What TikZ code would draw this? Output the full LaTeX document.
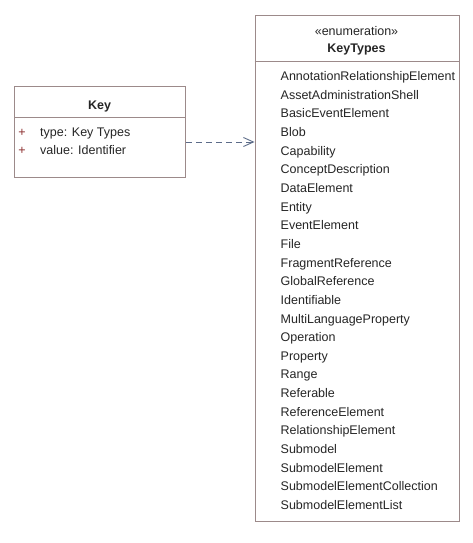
\documentclass[tikz,border=0pt]{standalone}
\usepackage{fontspec}
\setmainfont{Liberation Sans}
\usetikzlibrary{arrows.meta}
\definecolor{bordercol}{HTML}{9C8A8A}
\definecolor{txtcol}{HTML}{262626}
\definecolor{pluscol}{HTML}{8C2E2E}
\definecolor{arrowcol}{HTML}{5C6B88}
\begin{document}
\begin{tikzpicture}[x=1pt,y=-1pt,
  box/.style={draw=bordercol, line width=1pt, fill=white, inner sep=0pt, anchor=north west},
  sep/.style={draw=bordercol, line width=1pt},
  txt/.style={inner sep=0pt, anchor=base west, text=txtcol, font=\fontsize{12.5}{15}\selectfont},
  ctxt/.style={inner sep=0pt, anchor=base, text=txtcol, font=\fontsize{12.5}{15}\selectfont},
  btxt/.style={inner sep=0pt, anchor=base, text=txtcol, font=\fontsize{12.5}{15}\selectfont\bfseries},
  plus/.style={inner sep=0pt, anchor=base, text=pluscol, font=\fontsize{12.5}{15}\selectfont},
  dep/.style={draw=arrowcol, line width=0.9pt, dash pattern=on 6pt off 4pt, -{Straight Barb[length=10pt, width=9pt, line width=0.9pt]}}
]
\useasboundingbox (0,0) rectangle (473,543);
% Key class
\node[box, minimum width=171pt, minimum height=91pt] (key) at (14,86) {};
\coordinate (keysepL) at (14,117);
\coordinate (keysepR) at (185,117);
\draw[sep] (keysepL) -- (keysepR);
\node[btxt] (keytitle) at (99.5,109) {Key};
\node[plus] (p1) at (22,136) {+};
\node[plus] (p2) at (22,154.5) {+};
\node[txt] (a1) at (40,136) {type: Key Types};
\node[txt] (a2) at (40,154.5) {value: Identifier};
% KeyTypes enumeration
\node[box, minimum width=204pt, minimum height=505pt] (kt) at (254.5,15.5) {};
\coordinate (ktsepL) at (254.5,61.5);
\coordinate (ktsepR) at (458.5,61.5);
\draw[sep] (ktsepL) -- (ktsepR);
\node[ctxt] (stereo) at (356.5,36) {«enumeration»};
\node[btxt] (kttitle) at (356.5,52.5) {KeyTypes};
\foreach \t [count=\i from 0] in {AnnotationRelationshipElement,AssetAdministrationShell,BasicEventElement,Blob,Capability,ConceptDescription,DataElement,Entity,EventElement,File,FragmentReference,GlobalReference,Identifiable,MultiLanguageProperty,Operation,Property,Range,Referable,ReferenceElement,RelationshipElement,Submodel,SubmodelElement,SubmodelElementCollection,SubmodelElementList}{
  \node[txt] (lit\i) at (280.5,{80.7+18.64*\i}) {\t};
}
% dependency
\coordinate (arrowy) at (0,142);
\draw[dep] (key.east |- arrowy) -- (kt.west |- arrowy);
\end{tikzpicture}
\end{document}
